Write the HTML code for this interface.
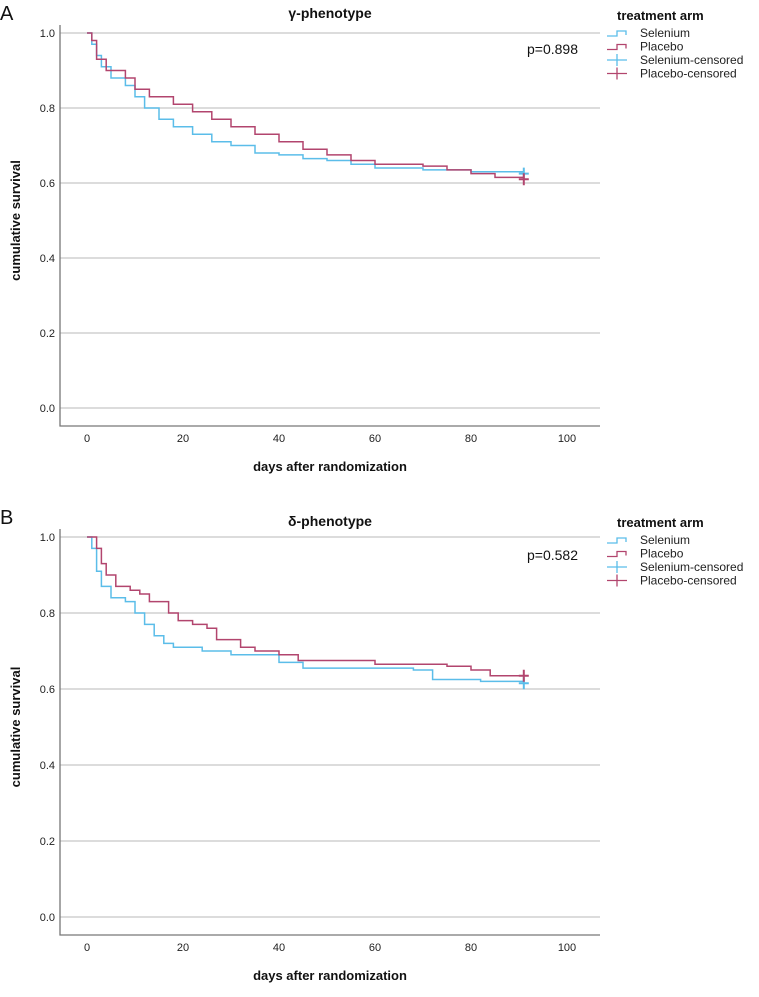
<!DOCTYPE html>
<html><head><meta charset="utf-8"><style>
body{margin:0;background:#fff;width:759px;height:992px;overflow:hidden;font-family:"Liberation Sans",sans-serif}
svg text{font-family:"Liberation Sans","DejaVu Sans",sans-serif}
</style></head><body>
<svg id="chart" width="759" height="992" xmlns="http://www.w3.org/2000/svg"></svg>
<script>
const xTicks=[0,20,40,60,80,100];
const yTicks=[0.0,0.2,0.4,0.6,0.8,1.0];
const aSelDays=[0,1,2,3,5,8,10,12,15,18,22,26,30,35,40,45,50,55,60,70,80,91];
const aSelVals=[1.0,0.97,0.94,0.91,0.88,0.86,0.83,0.80,0.77,0.75,0.73,0.71,0.70,0.68,0.675,0.665,0.66,0.65,0.64,0.635,0.63,0.625];
const aPlaDays=[0,1,2,4,8,10,13,18,22,26,30,35,40,45,50,55,60,70,75,80,85,91];
const aPlaVals=[1.0,0.98,0.93,0.90,0.88,0.85,0.83,0.81,0.79,0.77,0.75,0.73,0.71,0.69,0.675,0.66,0.65,0.645,0.635,0.625,0.615,0.61];
const bSelDays=[0,1,2,3,5,8,10,12,14,16,18,24,30,40,45,60,68,72,82,91];
const bSelVals=[1.0,0.97,0.91,0.87,0.84,0.83,0.80,0.77,0.74,0.72,0.71,0.70,0.69,0.67,0.655,0.655,0.65,0.625,0.62,0.615];
const bPlaDays=[0,2,3,4,6,9,11,13,17,19,22,25,27,32,35,40,44,60,75,80,84,91];
const bPlaVals=[1.0,0.97,0.93,0.90,0.87,0.86,0.85,0.83,0.80,0.78,0.77,0.76,0.73,0.71,0.70,0.69,0.675,0.665,0.66,0.65,0.635,0.635];

const svg=document.getElementById('chart');
const NS='http://www.w3.org/2000/svg';
function mk(tag,attrs,parent){const e=document.createElementNS(NS,tag);for(const k in attrs)e.setAttribute(k,attrs[k]);(parent||svg).appendChild(e);return e;}
const BLUE='#5bbde9',RED='#b2456e';

function panel(cfg){
  const g=mk('g',{});
  
  
  const xS=d=>87+d*4.8;
  const yS=v=>cfg.y0-(v)*(cfg.y0-cfg.y1);
  yTicks.forEach(t=>{
    const l=mk('line',{x1:60,x2:600,y1:yS(t),y2:yS(t),stroke:'#c8c8c8','stroke-width':1.3},g);
    
    
    const tx=mk('text',{x:55,y:yS(t)+4,'text-anchor':'end','font-size':11,fill:'#222'},g);
    tx.textContent=t.toFixed(1);
    
    
  });
  const fr=mk('path',{d:`M60,${yS(1)-8} V${cfg.yAxis} H600`,fill:'none',stroke:'#777','stroke-width':1.3},g);
  
  
  xTicks.forEach(t=>{
    const tx=mk('text',{x:xS(t),y:cfg.yAxis+16,'text-anchor':'middle','font-size':11,fill:'#222'},g);
    tx.textContent=t;
    
    
  });
  function step(days,vals,col,nm){
    let d=`M${xS(days[0])},${yS(vals[0])}`;
    for(let i=1;i<days.length;i++){d+=` H${xS(days[i])} V${yS(vals[i])}`;}
    const p=mk('path',{d:d,fill:'none',stroke:col,'stroke-width':1.5},g);
    
    
    const n=days.length-1,cx=xS(days[n]),cy=yS(vals[n]);
    const c=mk('path',{d:`M${cx-5},${cy} H${cx+5} M${cx},${cy-6} V${cy+6}`,stroke:col,'stroke-width':2},g);
    
    
  }
  step(cfg.selD,cfg.selV,BLUE,'selenium');
  step(cfg.plaD,cfg.plaV,RED,'placebo');
  const t=mk('text',{x:330,y:cfg.titleY,'text-anchor':'middle','font-size':14,'font-weight':'bold',fill:'#111'},g);
  t.textContent=cfg.title;
  const p=mk('text',{x:527,y:cfg.pY,'font-size':14,fill:'#111'},g);
  p.textContent=cfg.p;
  const L=mk('text',{x:0,y:cfg.letterY,'font-size':20,fill:'#111'},g);
  L.textContent=cfg.letter;
  const yt=mk('text',{x:0,y:0,'text-anchor':'middle','font-size':13,'font-weight':'bold',fill:'#111',transform:`translate(20,${(yS(0)+yS(1))/2}) rotate(-90)`},g);
  yt.textContent='cumulative survival';
  const xt=mk('text',{x:330,y:cfg.xTitleY,'text-anchor':'middle','font-size':13,'font-weight':'bold',fill:'#111'},g);
  xt.textContent='days after randomization';
  const lg=mk('g',{},g);
  
  const lt=mk('text',{x:617,y:cfg.legY,'font-size':13,'font-weight':'bold',fill:'#111'},lg);
  lt.textContent='treatment arm';
  const items=[['Selenium',BLUE,'s'],['Placebo',RED,'s'],['Selenium-censored',BLUE,'c'],['Placebo-censored',RED,'c']];
  items.forEach((it,i)=>{
    const y=cfg.legY+16+i*13.5;
    const ig=mk('g',{},lg);
    
    if(it[2]=='s')mk('path',{d:`M607,${y} H617 V${y-5} H626 V${y-1}`,fill:'none',stroke:it[1],'stroke-width':1.3},ig);
    else mk('path',{d:`M607,${y-3} H627 M617,${y-9} V${y+3}`,fill:'none',stroke:it[1],'stroke-width':1.3},ig);
    const tx=mk('text',{x:640,y:y+1,'font-size':12,fill:'#222'},ig);tx.textContent=it[0];
  });
}
panel({name:'panel-a',y0:408,y1:33,yAxis:426,titleY:18,pY:54,letter:'A',letterY:20,xTitleY:471,legY:20,title:'γ-phenotype',p:'p=0.898',selD:aSelDays,selV:aSelVals,plaD:aPlaDays,plaV:aPlaVals});
panel({name:'panel-b',y0:917,y1:537,yAxis:935,titleY:526,pY:560,letter:'B',letterY:524,xTitleY:980,legY:527,title:'δ-phenotype',p:'p=0.582',selD:bSelDays,selV:bSelVals,plaD:bPlaDays,plaV:bPlaVals});
</script>
</body></html>
